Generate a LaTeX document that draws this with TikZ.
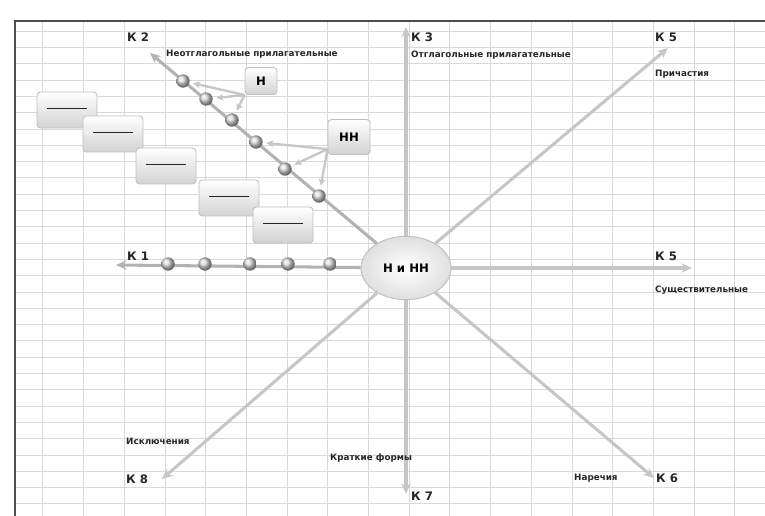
\documentclass[tikz,border=0pt]{standalone}
\usepackage{fontspec}
\setmainfont{DejaVu Sans}
\usetikzlibrary{arrows.meta,shapes.geometric}
\begin{document}
\begin{tikzpicture}[x=0.03cm,y=-0.03cm,
    gridline/.style={gray!30,line width=0.5pt},
    axis/.style={draw=gray!45,line width=2.6pt,-{Stealth[length=9pt,width=8pt]}},
    rowaxis/.style={axis,draw=gray!60},
    pointer/.style={draw=gray!45,line width=2pt,-{Stealth[length=6pt,width=6pt]},shorten >=3pt},
    ball/.style={circle,minimum size=0.4cm,inner sep=0pt,shading=ball,ball color=gray!30},
    klabel/.style={anchor=west,inner sep=0pt,font=\bfseries\fontsize{10}{12}\selectfont,text=black!85},
    topic/.style={anchor=west,inner sep=0pt,font=\bfseries\fontsize{7.5}{9}\selectfont,text=black!85},
    blank/.style={draw=gray!50,line width=0.8pt,rounded corners=3pt,top color=white,bottom color=gray!35,minimum width=1.8cm,minimum height=1.08cm},
    letterbox/.style={draw=gray!50,line width=0.8pt,rounded corners=3pt,top color=white,bottom color=gray!35,font=\bfseries\fontsize{10}{12}\selectfont}
  ]
  \useasboundingbox (0,0) rectangle (765,516);

  % Grid
  \foreach \gx in {0,...,17} \draw[gridline] (42.7+40.7*\gx,21) -- (42.7+40.7*\gx,516);
  \foreach \gy in {0,...,29} \draw[gridline] (15,31+16.3*\gy) -- (765,31+16.3*\gy);
  \draw[gray!60!black,line width=1pt] (15,516) -- (15,21) -- (765,21);

  % Nodes
  \node[ellipse,draw=gray!50,line width=0.8pt,inner color=white,outer color=gray!25,minimum width=2.7cm,minimum height=1.9cm,font=\bfseries\fontsize{10}{12}\selectfont] (nn) at (406,268) {Н и НН};

  \coordinate (t1) at (116,265);
  \coordinate (t2) at (150,53);
  \coordinate (t3) at (406,27);
  \coordinate (t4) at (668,48);
  \coordinate (t5) at (692,268);
  \coordinate (t6) at (654,478);
  \coordinate (t7) at (406,494);
  \coordinate (t8) at (162,479);

  % Edges
  \draw[rowaxis] (nn) -- (t1);
  \draw[rowaxis] (nn) -- (t2);
  \draw[axis] (nn) -- (t3);
  \draw[axis] (nn) -- (t4);
  \draw[axis] (nn) -- (t5);
  \draw[axis] (nn) -- (t6);
  \draw[axis] (nn) -- (t7);
  \draw[axis] (nn) -- (t8);

  % Balls
  \node[ball] (b1) at (183,81) {};
  \node[ball] (b2) at (206,99) {};
  \node[ball] (b3) at (232,120) {};
  \node[ball] (b4) at (256,142) {};
  \node[ball] (b5) at (285,169) {};
  \node[ball] (b6) at (319,196) {};

  \node[ball] (a1) at (168,264) {};
  \node[ball] (a2) at (205,264) {};
  \node[ball] (a3) at (250,264) {};
  \node[ball] (a4) at (288,264) {};
  \node[ball] (a5) at (330,264) {};

  % Blanks
  \node[blank] (d1) at (67,110) {\textcolor{gray!30!black}{\rule[0.5ex]{1.2cm}{1.2pt}}};
  \node[blank] (d2) at (113,134) {\textcolor{gray!30!black}{\rule[0.5ex]{1.2cm}{1.2pt}}};
  \node[blank] (d3) at (166,166) {\textcolor{gray!30!black}{\rule[0.5ex]{1.2cm}{1.2pt}}};
  \node[blank] (d4) at (229,198) {\textcolor{gray!30!black}{\rule[0.5ex]{1.2cm}{1.2pt}}};
  \node[blank] (d5) at (283,225) {\textcolor{gray!30!black}{\rule[0.5ex]{1.2cm}{1.2pt}}};

  \node[letterbox,minimum width=0.96cm,minimum height=0.81cm] (h) at (261,81) {Н};
  \node[letterbox,minimum width=1.26cm,minimum height=1.05cm] (hh) at (349,137) {НН};

  \draw[pointer] (h.south west) -- (b1);
  \draw[pointer] (h.south west) -- (b2);
  \draw[pointer] (h.south west) -- (b3);
  \draw[pointer] ([yshift=5pt]hh.south west) -- (b4);
  \draw[pointer] ([yshift=5pt]hh.south west) -- (b5);
  \draw[pointer] ([yshift=5pt]hh.south west) -- (b6);

  % Labels
  \node[klabel] (k1) at (127,256) {К 1};
  \node[klabel] (k2) at (127,37) {К 2};
  \node[klabel] (k3) at (411,37) {К 3};
  \node[klabel] (k5a) at (655,37) {К 5};
  \node[klabel] (k5b) at (655,256) {К 5};
  \node[klabel] (k6) at (656,478) {К 6};
  \node[klabel] (k7) at (411,496) {К 7};
  \node[klabel] (k8) at (126,479) {К 8};

  \node[topic] (neotgl) at (166,54) {Неотглагольные прилагательные};
  \node[topic] (otgl) at (411,55) {Отглагольные прилагательные};
  \node[topic] (prich) at (655,74) {Причастия};
  \node[topic] (sushch) at (655,290) {Существительные};
  \node[topic] (iskl) at (126,441) {Исключения};
  \node[topic] (krat) at (330,458) {Краткие формы};
  \node[topic] (narech) at (574,478) {Наречия};
\end{tikzpicture}
\end{document}
